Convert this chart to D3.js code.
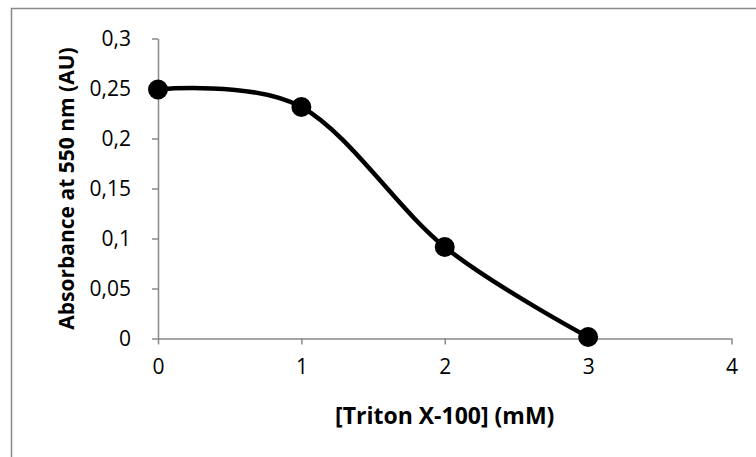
<!DOCTYPE html>
<html><head><meta charset="utf-8">
<script src="https://cdn.jsdelivr.net/npm/d3@7"></script>
<style>html,body{margin:0;padding:0;background:#fff;}svg{display:block;}</style>
</head><body>
<script>
const xValues = [0, 1, 2, 3];
const yValues = [0.249, 0.2315, 0.0915, 0.0015];
const xTicks = [0, 1, 2, 3, 4];
const yTicks = [0, 0.05, 0.1, 0.15, 0.2, 0.25, 0.3];
const xTitle = "[Triton X-100] (mM)";
const yTitle = "Absorbance at 550 nm (AU)";

const W = 756, H = 457;
const svg = d3.select("body").append("svg").attr("width", W).attr("height", H);
const font = "'Open Sans', sans-serif";

// outer chart border (only top/left visible)
svg.append("rect").attr("x", 11.5).attr("y", 8.5).attr("width", 800).attr("height", 500)
  .attr("fill", "none").attr("stroke", "#898989").attr("stroke-width", 1.5);

const x = d3.scaleLinear().domain([0, 4]).range([158, 731.5]);
const y = d3.scaleLinear().domain([0, 0.3]).range([338.5, 38.5]);
const axisColor = "#898989";
const fmt = d => String(d).replace(".", ",");

const gx = svg.append("g").attr("transform", `translate(0,${y(0)})`)
  .call(d3.axisBottom(x).tickValues(xTicks).tickSize(6).tickSizeOuter(0).tickFormat(fmt));
const gy = svg.append("g").attr("transform", `translate(${x(0)},0)`)
  .call(d3.axisLeft(y).tickValues(yTicks).tickSize(6).tickSizeOuter(0).tickFormat(fmt));
[gx, gy].forEach(g => {
  g.select(".domain").attr("stroke", axisColor).attr("stroke-width", 1.5);
  g.selectAll(".tick line").attr("stroke", axisColor).attr("stroke-width", 1.5);
  g.selectAll(".tick text").attr("fill", "#000").style("font-family", font).style("font-size", "21px");
});
gx.selectAll(".tick text").attr("dy", null).attr("y", 35);
gy.selectAll(".tick text").attr("x", -27).attr("dy", "0.35em");

const pts = xValues.map((v, i) => [v, yValues[i]]);
const line = d3.line().x(d => x(d[0])).y(d => y(d[1])).curve(d3.curveCatmullRom.alpha(0));
svg.append("path").datum(pts).attr("d", line).attr("fill", "none")
  .attr("stroke", "#000").attr("stroke-width", 4.5).attr("stroke-linejoin", "round");
svg.selectAll("circle.pt").data(pts).enter().append("circle").attr("class", "pt")
  .attr("cx", d => x(d[0])).attr("cy", d => y(d[1])).attr("r", 10).attr("fill", "#000");

svg.append("text").attr("x", (x(0) + x(4)) / 2).attr("y", 424).attr("text-anchor", "middle")
  .style("font-family", font).style("font-weight", "bold").style("font-size", "23px").text(xTitle);
svg.append("text").attr("transform", `translate(74,${(y(0) + y(0.3)) / 2}) rotate(-90)`)
  .attr("text-anchor", "middle")
  .style("font-family", font).style("font-weight", "bold").style("font-size", "21px").text(yTitle);
</script>
</body></html>
